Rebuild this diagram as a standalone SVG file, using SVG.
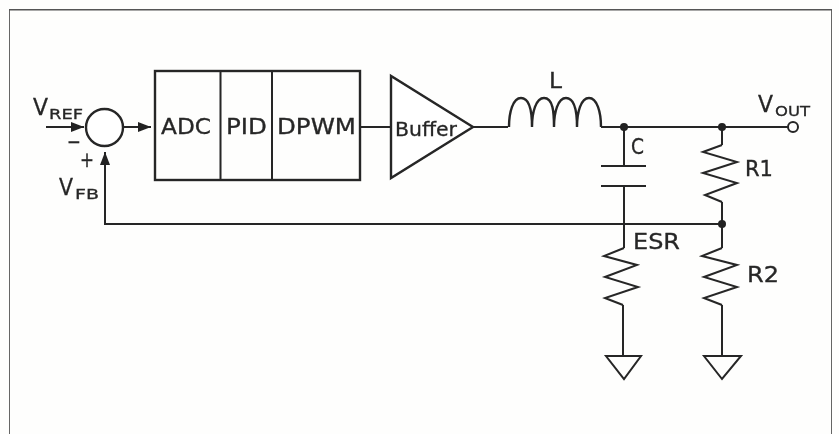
<svg xmlns="http://www.w3.org/2000/svg" width="839" height="434" viewBox="0 0 839 434">
<style>
.w{fill:none;stroke:#262626;stroke-width:2;stroke-linejoin:miter}
.f{fill:#fff;stroke:#262626;stroke-width:2.4}
.d{fill:#222}
text{font-family:"DejaVu Sans","Liberation Sans",sans-serif;fill:#262626;stroke:#262626;stroke-width:.3px;font-size:21px;text-anchor:start}
.s{font-size:14.5px}
.v{font-size:23px}
.b{font-size:19px}
</style>
<defs>
<marker id="a" markerUnits="userSpaceOnUse" markerWidth="14" markerHeight="10" refX="13" refY="5" orient="auto"><path d="M0 0L13 5L0 10Z" fill="#222"/></marker>
<filter id="soft" x="0" y="0" width="100%" height="100%"><feGaussianBlur stdDeviation="0.45"/></filter>
</defs>
<rect x="0" y="0" width="839" height="434" fill="#fefefd"/>
<g filter="url(#soft)">
<path id="frame" d="M9 434V9.500H832V434" fill="none" stroke="#555" stroke-width="1.800"/>
<g id="connectors">
<path class="w" d="M46 127H84" marker-end="url(#a)"/>
<path class="w" d="M123 127H151" marker-end="url(#a)"/>
<path class="w" d="M722 224H105V152" marker-end="url(#a)"/>
<path class="w" d="M360 127H391"/>
<path class="w" d="M473 127H508"/>
<path class="w" d="M601 127H788"/>
<path class="w" d="M624 127V166"/>
<path class="w" d="M624 186V248"/>
<path class="w" d="M722 127V145"/>
<path class="w" d="M722 202V248"/>
<path class="w" d="M623 305V356"/>
<path class="w" d="M722 305V356"/>
<circle class="d" cx="624" cy="127" r="4"/>
<circle class="d" cx="722" cy="127" r="4"/>
<circle class="d" cx="722" cy="224" r="4"/>
</g>
<g id="sum"><circle class="f" cx="104.500" cy="127.500" r="18.500"/></g>
<g id="vref"><text class="v" x="33" y="115" textLength="15" lengthAdjust="spacingAndGlyphs">V</text><text class="s" x="49" y="119" textLength="34" lengthAdjust="spacingAndGlyphs">REF</text></g>
<g id="minus"><text x="67" y="149" textLength="14" lengthAdjust="spacingAndGlyphs">−</text></g>
<g id="plus"><text x="80" y="167" textLength="14" lengthAdjust="spacingAndGlyphs">+</text></g>
<g id="vfb"><text class="v" x="59" y="195" textLength="14" lengthAdjust="spacingAndGlyphs">V</text><text class="s" x="75" y="199" textLength="24" lengthAdjust="spacingAndGlyphs">FB</text></g>
<g id="controller">
<rect x="155" y="71" width="205" height="109" fill="none" stroke="#262626" stroke-width="2.400"/>
<path class="w" d="M220.500 71V180M272 71V180"/>
<text x="161" y="134" textLength="50" lengthAdjust="spacingAndGlyphs">ADC</text>
<text x="226" y="134" textLength="41" lengthAdjust="spacingAndGlyphs">PID</text>
<text x="277" y="134" textLength="79" lengthAdjust="spacingAndGlyphs">DPWM</text>
</g>
<g id="buffer">
<path class="f" d="M391 76V178L473 127Z"/>
<text class="b" x="395" y="136" textLength="62" lengthAdjust="spacingAndGlyphs">Buffer</text>
</g>
<g id="inductor">
<path d="M509 127C509 112 513 98 521 98C530 98 532 112 532 127C532 112 536 98 544 98C553 98 554 112 554 127C554 112 558 98 566 98C575 98 577 112 577 127C577 112 581 98 589 98C597 98 601 112 601 127" fill="none" stroke="#262626" stroke-width="2.400"/>
<text x="549" y="88" textLength="13" lengthAdjust="spacingAndGlyphs">L</text>
</g>
<g id="capacitor">
<path class="w" d="M601 166H646M601 186H646"/>
<text x="631" y="154" textLength="13" lengthAdjust="spacingAndGlyphs">C</text>
</g>
<g id="esr">
<path class="w" d="M624 248L604 256L637 265L605 277L638 287L605 298L623 305"/>
<text x="633" y="249" textLength="47" lengthAdjust="spacingAndGlyphs">ESR</text>
</g>
<g id="r1">
<path class="w" d="M722 145L703 152L737 162L703 173L737 183L705 195L722 202"/>
<text x="745" y="176" textLength="28" lengthAdjust="spacingAndGlyphs">R1</text>
</g>
<g id="r2">
<path class="w" d="M722 248L702 256L737 265L704 277L737 287L704 298L722 305"/>
<text x="747" y="282" textLength="32" lengthAdjust="spacingAndGlyphs">R2</text>
</g>
<g id="gnd1"><path class="w" d="M606 356H641L624 379Z"/></g>
<g id="gnd2"><path class="w" d="M704 356H741L722 379Z"/></g>
<g id="vout">
<circle cx="793" cy="127" r="5" fill="#fff" stroke="#262626" stroke-width="2"/>
<text class="v" x="758" y="112" textLength="15" lengthAdjust="spacingAndGlyphs">V</text><text class="s" x="775" y="116" textLength="35" lengthAdjust="spacingAndGlyphs">OUT</text>
</g>
</g>
</svg>
